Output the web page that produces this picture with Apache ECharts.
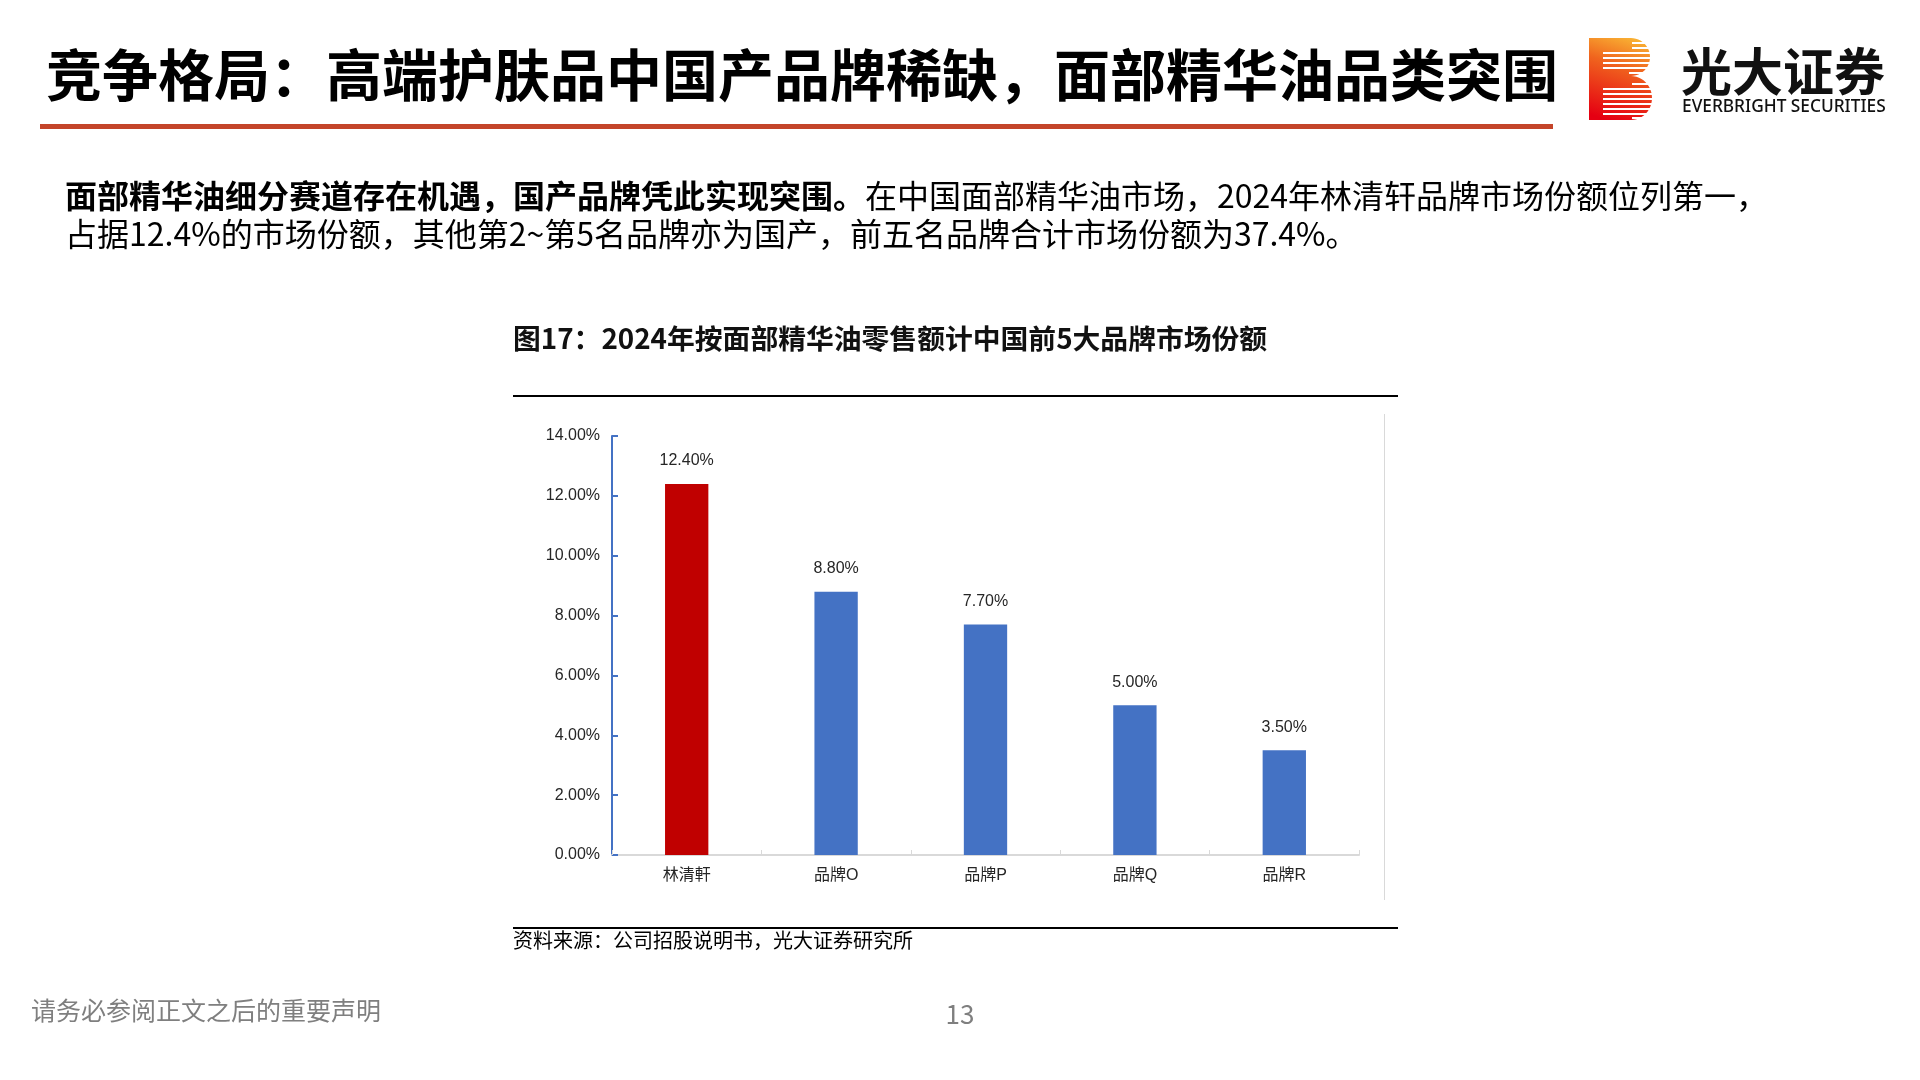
<!DOCTYPE html>
<html>
<head>
<meta charset="utf-8">
<style>
html,body{margin:0;padding:0;background:#fff;}
#c{width:1920px;height:1080px;}
</style>
<script src="https://cdn.jsdelivr.net/npm/echarts@6/dist/echarts.min.js"></script>
</head>
<body>
<div id="c"></div>
<script>
// ---- data ----
const categories = ['林清軒', '品牌O', '品牌P', '品牌Q', '品牌R'];
const shares = [12.4, 8.8, 7.7, 5.0, 3.5];
const yTicks = { min: 0, max: 14, interval: 2 };

const pageTitle = '竞争格局：高端护肤品中国产品牌稀缺，面部精华油品类突围';
const bodyBold = '面部精华油细分赛道存在机遇，国产品牌凭此实现突围。';
const bodyLine1 = '在中国面部精华油市场，2024年林清轩品牌市场份额位列第一，';
const bodyLine2 = '占据12.4%的市场份额，其他第2~第5名品牌亦为国产，前五名品牌合计市场份额为37.4%。';
const chartTitle = '图17：2024年按面部精华油零售额计中国前5大品牌市场份额';
const sourceText = '资料来源：公司招股说明书，光大证券研究所';
const footerText = '请务必参阅正文之后的重要声明';
const pageNo = '13';

const CJK = '"Noto Sans CJK SC", sans-serif';
const LAT = '"Liberation Sans", "Noto Sans CJK SC", sans-serif';

const chart = echarts.init(document.getElementById('c'), null, { renderer: 'canvas' });

// ---- logo "B" (decoration) ----
function bowl(cx, cy, rx, ry, n) {
  const pts = [];
  for (let i = 0; i <= n; i++) {
    const a = -Math.PI / 2 + Math.PI * i / n;
    pts.push([cx + rx * Math.cos(a), cy + ry * Math.sin(a)]);
  }
  return pts;
}
const bPoints = [[0, 0]].concat(bowl(42, 19, 19, 19, 24), bowl(42, 60, 21, 22, 24), [[0, 82]]);
const stripeRows = [
  [4, 43], [9, 43], [14, 14], [19, 14], [24, 14], [29, 14], [34, 40],
  [45, 43], [50, 14], [55, 14], [60, 14], [65, 14], [70, 14], [75, 14], [79, 43]
];
const logoChildren = [{
  type: 'polygon',
  shape: { points: bPoints },
  style: {
    fill: {
      type: 'linear', x: 0.7, y: 0, x2: 0.3, y2: 1,
      colorStops: [
        { offset: 0, color: '#F9B233' },
        { offset: 0.35, color: '#F0641E' },
        { offset: 1, color: '#E50012' }
      ]
    }
  }
}];
stripeRows.forEach(r => {
  logoChildren.push({ type: 'rect', shape: { x: r[1], y: r[0], width: 70 - r[1], height: 2 }, style: { fill: '#fff' } });
});

const option = {
  backgroundColor: '#fff',
  animation: false,
  grid: { left: 612, right: 561, top: 436, bottom: 225, containLabel: false },
  xAxis: {
    type: 'category',
    data: categories,
    axisLine: { show: true, lineStyle: { color: '#d9d9d9', width: 2 } },
    axisTick: { show: true, inside: true, length: 5, lineStyle: { color: '#d9d9d9', width: 1 } },
    axisLabel: { color: '#262626', fontSize: 16, fontFamily: LAT, margin: 13 },
    splitLine: { show: false }
  },
  yAxis: {
    type: 'value',
    min: yTicks.min, max: yTicks.max, interval: yTicks.interval,
    axisLine: { show: true, lineStyle: { color: '#4472C4', width: 2 } },
    axisTick: { show: true, inside: true, length: 6, lineStyle: { color: '#4472C4', width: 2 } },
    axisLabel: { color: '#262626', fontSize: 16, fontFamily: LAT, margin: 12, formatter: v => v.toFixed(2) + '%' },
    splitLine: { show: false }
  },
  series: [{
    type: 'bar',
    data: shares,
    barWidth: '29%',
    itemStyle: { color: p => (p.dataIndex === 0 ? '#C00000' : '#4472C4') },
    label: {
      show: true, position: 'top', distance: 15,
      color: '#262626', fontSize: 16, fontFamily: LAT,
      formatter: p => p.value.toFixed(2) + '%'
    }
  }],
  graphic: [
    // page title
    { type: 'text', x: 46, y: 75, style: { text: pageTitle, fontSize: 56, fontWeight: 'bold', fontFamily: CJK, fill: '#000', textVerticalAlign: 'middle' } },
    { type: 'rect', shape: { x: 40, y: 124, width: 1513, height: 5 }, style: { fill: '#C4452A' } },
    // logo
    { type: 'group', x: 1589, y: 38, children: logoChildren },
    { type: 'text', x: 1681, y: 72, style: { text: '光大证券', fontSize: 51, fontWeight: 'bold', fontFamily: CJK, fill: '#111', textVerticalAlign: 'middle' } },
    { type: 'text', x: 1682, y: 107, style: { text: 'EVERBRIGHT SECURITIES', fontSize: 17.3, fontWeight: 500, fontFamily: '"Noto Sans", sans-serif', fill: '#111', textVerticalAlign: 'middle' } },
    // body text
    { type: 'text', x: 65, y: 196, style: {
        text: '{b|' + bodyBold + '}{n|' + bodyLine1 + '}',
        textVerticalAlign: 'middle',
        rich: {
          b: { fontSize: 32, fontWeight: 'bold', fontFamily: CJK, fill: '#000' },
          n: { fontSize: 32, fontWeight: 'normal', fontFamily: CJK, fill: '#000' }
        }
    } },
    { type: 'text', x: 65, y: 234, style: { text: bodyLine2, fontSize: 32, fontFamily: CJK, fill: '#000', textVerticalAlign: 'middle' } },
    // chart title & frame lines
    { type: 'text', x: 513, y: 338, style: { text: chartTitle, fontSize: 27.8, fontWeight: 'bold', fontFamily: CJK, fill: '#111', textVerticalAlign: 'middle' } },
    { type: 'rect', shape: { x: 513, y: 395, width: 885, height: 2 }, style: { fill: '#000' } },
    { type: 'rect', shape: { x: 513, y: 927, width: 885, height: 2 }, style: { fill: '#000' } },
    { type: 'line', shape: { x1: 1384.5, y1: 414, x2: 1384.5, y2: 900 }, style: { stroke: '#d9d9d9', lineWidth: 1 } },
    { type: 'text', x: 513, y: 940, style: { text: sourceText, fontSize: 20, fontFamily: CJK, fill: '#000', textVerticalAlign: 'middle' } },
    // footer
    { type: 'text', x: 31, y: 1010, style: { text: footerText, fontSize: 25, fontFamily: CJK, fill: '#7f7f7f', textVerticalAlign: 'middle' } },
    { type: 'text', x: 960, y: 1014, style: { text: pageNo, fontSize: 26, fontFamily: CJK, fill: '#7f7f7f', textAlign: 'center', textVerticalAlign: 'middle' } }
  ]
};
chart.setOption(option);
</script>
</body>
</html>
